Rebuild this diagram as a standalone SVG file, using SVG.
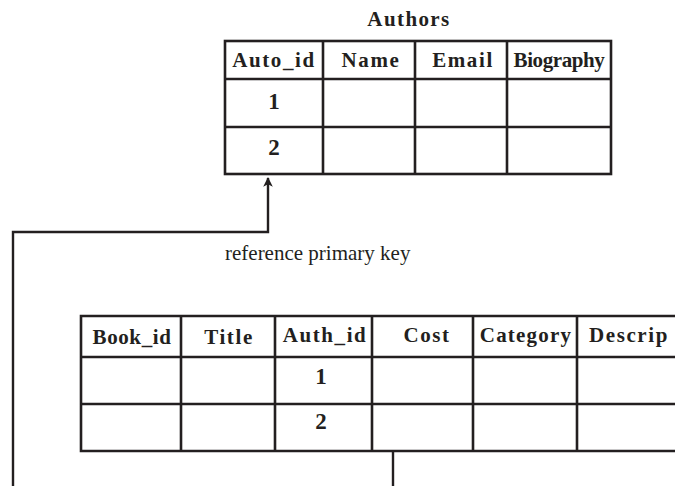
<svg xmlns="http://www.w3.org/2000/svg" width="675" height="486" viewBox="0 0 675 486">
  <defs>
    <marker id="arrow" viewBox="0 0 10 10" refX="9" refY="5" markerWidth="4" markerHeight="4" orient="auto" markerUnits="strokeWidth">
      <path d="M0,0 L10,5 L0,10 L2.5,5 Z" fill="#231f20"/>
    </marker>
    <style>
      .grid { fill: none; stroke: #231f20; stroke-width: 2.6; }
      .wire { fill: none; stroke: #231f20; stroke-width: 2.4; }
      .hd { font-family: "Liberation Serif", "Times New Roman", serif; font-weight: bold; font-size: 21px; fill: #231f20; text-anchor: middle; letter-spacing: 1.6px; }
      .cell { font-family: "Liberation Serif", "Times New Roman", serif; font-weight: bold; font-size: 23px; fill: #231f20; text-anchor: middle; }
      .label { font-family: "Liberation Serif", "Times New Roman", serif; font-size: 21px; fill: #231f20; }
    </style>
  </defs>
  <rect width="675" height="486" fill="#ffffff"/>

  <!-- Authors table -->
  <g id="authors">
    <text class="hd" x="409" y="26" style="letter-spacing:1.4px">Authors</text>
    <rect class="grid" x="225" y="41" width="386" height="133"/>
    <path class="grid" d="M225,79 H611 M225,127 H611 M323,41 V174 M415,41 V174 M507,41 V174"/>
    <text class="hd" x="274" y="67">Auto_id</text>
    <text class="hd" x="371" y="67">Name</text>
    <text class="hd" x="463" y="67">Email</text>
    <text class="hd" x="559" y="67" style="letter-spacing:-0.4px">Biography</text>
    <text class="cell" x="274" y="109">1</text>
    <text class="cell" x="274" y="155">2</text>
  </g>

  <!-- Books table (runs off the right edge) -->
  <g id="books">
    <path class="grid" d="M675,316 H81 V451 H675 M81,357 H675 M81,404 H675 M181,316 V451 M275,316 V451 M372,316 V451 M473,316 V451 M577,316 V451"/>
    <text class="hd" x="132" y="344" style="letter-spacing:0.6px">Book_id</text>
    <text class="hd" x="229" y="344">Title</text>
    <text class="hd" x="325" y="342">Auth_id</text>
    <text class="hd" x="427" y="342">Cost</text>
    <text class="hd" x="526" y="342" style="letter-spacing:1.2px">Category</text>
    <text class="hd" x="629" y="342">Descrip</text>
    <text class="cell" x="321" y="384">1</text>
    <text class="cell" x="321" y="429">2</text>
  </g>

  <!-- Foreign key connectors -->
  <g id="connectors">
    <path class="wire" d="M13,486 V232 H268 V178" marker-end="url(#arrow)"/>
    <path class="wire" d="M393,452 V486"/>
  </g>

  <text id="fk-label" class="label" x="225" y="260">reference primary key</text>
</svg>
